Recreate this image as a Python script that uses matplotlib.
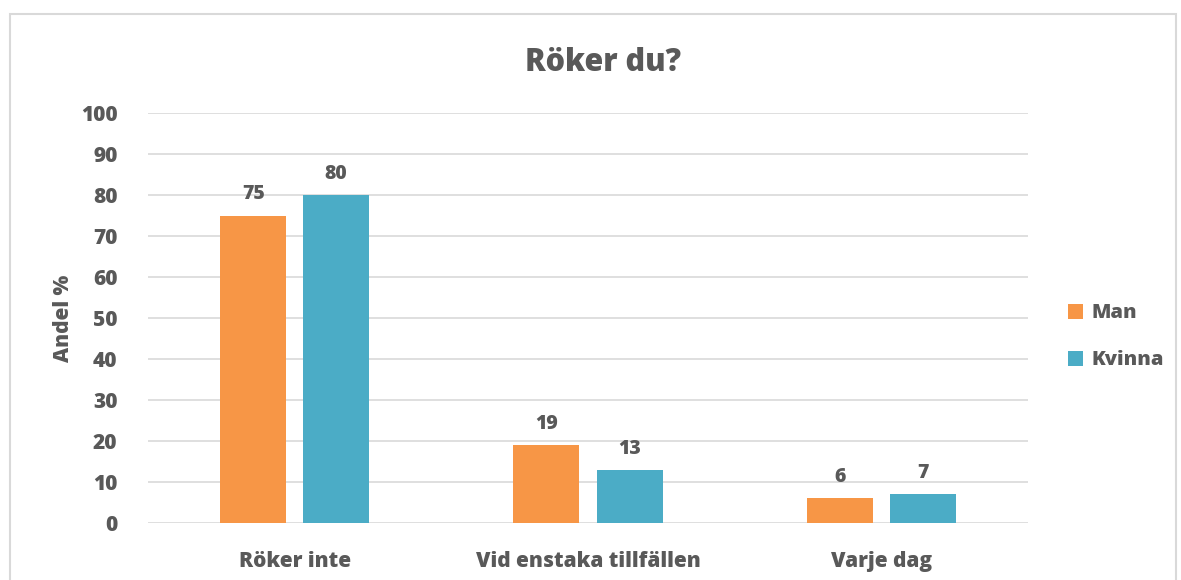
import matplotlib
matplotlib.use("Agg")
import matplotlib.pyplot as plt
from matplotlib.patches import Rectangle
import numpy as np

categories = ["Röker inte", "Vid enstaka tillfällen", "Varje dag"]
man = [75, 19, 6]
kvinna = [80, 13, 7]
series_names = ["Man", "Kvinna"]
colors = ["#F79646", "#4BACC6"]
TEXT = "#595959"

plt.rcParams["font.family"] = ["Open Sans", "DejaVu Sans"]

fig = plt.figure(figsize=(11.81, 5.80), dpi=100)
ax = fig.add_axes([148 / 1181, 1 - 523 / 580, 880 / 1181, 410 / 580])

# chart border
fig.patches.append(Rectangle((10 / 1181, -0.05), 1166 / 1181, 1.05 - 14 / 580,
                             transform=fig.transFigure, fill=False,
                             edgecolor="#D9D9D9", linewidth=1.5))

x = np.arange(len(categories))
w = 0.225
off = 0.1415
for vals, name, col, dx in zip([man, kvinna], series_names, colors, [-off, off]):
    bars = ax.bar(x + dx, vals, w, color=col, label=name, zorder=3)
    ax.bar_label(bars, padding=8, fontsize=14, fontweight="heavy", color=TEXT)

ax.set_xlim(-0.5, 2.5)
ax.set_ylim(0, 100)
ax.set_yticks(range(0, 101, 10))
ax.grid(axis="y", color="#D9D9D9", linewidth=1.2, zorder=0)
for s in ax.spines.values():
    s.set_visible(False)
ax.tick_params(length=0, labelsize=15, colors=TEXT, pad=22)
ax.tick_params(axis="x", pad=20)
ax.set_xticks(x)
ax.set_xticklabels(categories)
for lbl in ax.get_xticklabels() + ax.get_yticklabels():
    lbl.set_fontweight("heavy")
ax.set_ylabel("Andel %", fontsize=15, fontweight="heavy", color=TEXT, labelpad=5)

fig.text(603 / 1181, 1 - 63 / 580, "Röker du?", ha="center", va="center",
         fontsize=22, fontweight="heavy", color=TEXT)

leg = ax.legend(loc="center left", bbox_to_anchor=(1.025, 0.454), frameon=False,
                fontsize=14.5, handlelength=0.75, handleheight=0.75,
                labelspacing=1.35, handletextpad=0.4)
for t in leg.get_texts():
    t.set_color(TEXT)
    t.set_fontweight("heavy")

fig.savefig("out.png", dpi=100)
